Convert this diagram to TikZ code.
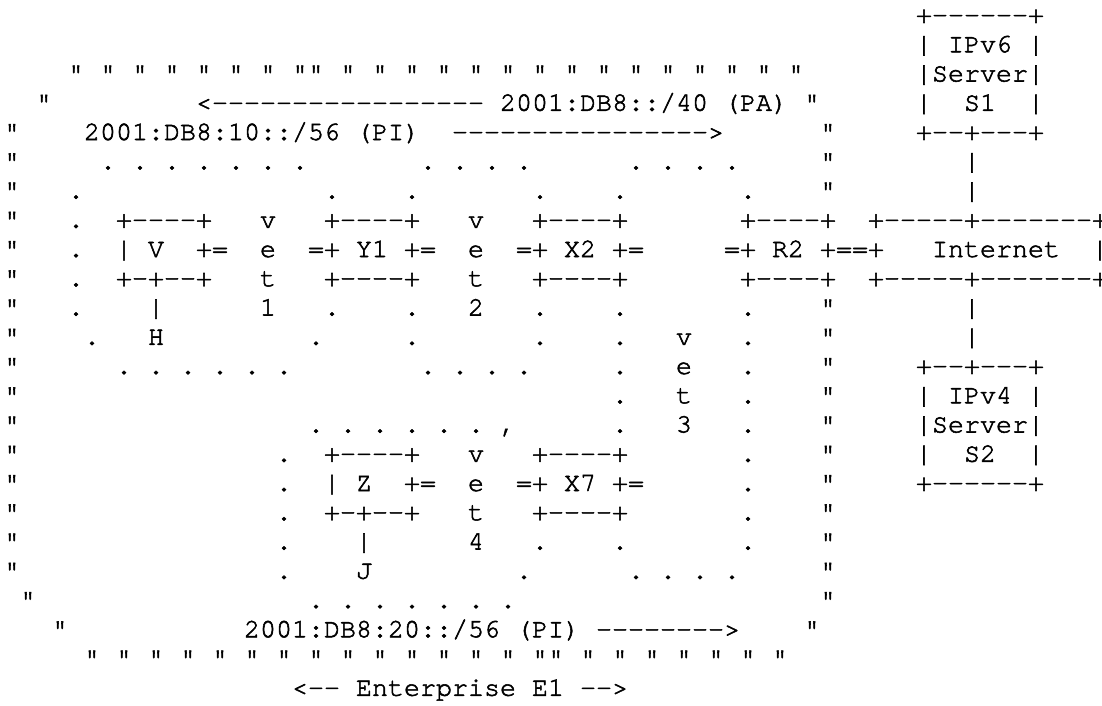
\documentclass[tikz,border=0pt]{standalone}
\usepackage{fontspec}
\IfFontExistsTF{texgyrecursor-regular.otf}{\newfontfamily\asc{texgyrecursor-regular.otf}[FakeBold=2]}{\newfontfamily\asc{Liberation Mono}}
\tikzset{asc/.style={font=\asc\fontsize{26.67pt}{29.25pt}\selectfont, anchor=base west, inner sep=0pt, outer sep=0pt, text=black}}
\newcommand\T[3]{\node[asc] (r#1c#2) at ({4pt+#2*16pt},{-23pt-#1*29.25pt}) {#3};}
\begin{document}
\begin{tikzpicture}
\useasboundingbox (0,0) rectangle (1102pt,-705pt);
\fill[white] (0,0) rectangle (1102pt,-705pt);
% row 0-1
\T{0}{57}{+------+}
\T{1}{57}{|~IPv6~|}
% row 2
\foreach \c in {4,6,...,18} {\T{2}{\c}{"}}
\foreach \c in {19,21,...,49} {\T{2}{\c}{"}}
\T{2}{57}{|Server|}
% row 3
\T{3}{2}{"}
\T{3}{12}{<-----------------}
\T{3}{31}{2001:DB8::/40~(PA)}
\T{3}{50}{"}
\T{3}{57}{|~~S1~~|}
% row 4
\T{4}{0}{"}
\T{4}{5}{2001:DB8:10::/56~(PI)}
\T{4}{28}{---------------->}
\T{4}{51}{"}
\T{4}{57}{+--+---+}
% row 5
\T{5}{0}{"}
\foreach \c in {6,8,...,18} {\T{5}{\c}{.}}
\foreach \c in {26,28,...,32} {\T{5}{\c}{.}}
\foreach \c in {39,41,...,45} {\T{5}{\c}{.}}
\T{5}{51}{"}
\T{5}{60}{|}
% row 6
\T{6}{0}{"}
\foreach \c in {4,20,25,33,38,46} {\T{6}{\c}{.}}
\T{6}{51}{"}
\T{6}{60}{|}
% row 7
\T{7}{0}{"}
\T{7}{4}{.}
\T{7}{7}{+----+}
\T{7}{16}{v}
\T{7}{20}{+----+}
\T{7}{29}{v}
\T{7}{33}{+----+}
\T{7}{46}{+----+}
\T{7}{54}{+-----+-------+}
% row 8
\T{8}{0}{"}
\T{8}{4}{.}
\T{8}{7}{|~V~~+=}
\T{8}{16}{e}
\T{8}{19}{=+~Y1~+=}
\T{8}{29}{e}
\T{8}{32}{=+~X2~+=}
\T{8}{45}{=+~R2~+==+}
\T{8}{58}{Internet}
\T{8}{68}{|}
% row 9
\T{9}{0}{"}
\T{9}{4}{.}
\T{9}{7}{+-+--+}
\T{9}{16}{t}
\T{9}{20}{+----+}
\T{9}{29}{t}
\T{9}{33}{+----+}
\T{9}{46}{+----+}
\T{9}{54}{+-----+-------+}
% row 10
\T{10}{0}{"}
\T{10}{4}{.}
\T{10}{9}{|}
\T{10}{16}{1}
\foreach \c in {20,25,33,38,46} {\T{10}{\c}{.}}
\T{10}{29}{2}
\T{10}{51}{"}
\T{10}{60}{|}
% row 11
\T{11}{0}{"}
\foreach \c in {5,19,25,33,38,46} {\T{11}{\c}{.}}
\T{11}{9}{H}
\T{11}{42}{v}
\T{11}{51}{"}
\T{11}{60}{|}
% row 12
\T{12}{0}{"}
\foreach \c in {7,9,...,17} {\T{12}{\c}{.}}
\foreach \c in {26,28,...,32} {\T{12}{\c}{.}}
\T{12}{38}{.}
\T{12}{42}{e}
\T{12}{46}{.}
\T{12}{51}{"}
\T{12}{57}{+--+---+}
% row 13
\T{13}{0}{"}
\T{13}{38}{.}
\T{13}{42}{t}
\T{13}{46}{.}
\T{13}{51}{"}
\T{13}{57}{|~IPv4~|}
% row 14
\T{14}{0}{"}
\foreach \c in {19,21,...,29} {\T{14}{\c}{.}}
\T{14}{31}{,}
\T{14}{38}{.}
\T{14}{42}{3}
\T{14}{46}{.}
\T{14}{51}{"}
\T{14}{57}{|Server|}
% row 15
\T{15}{0}{"}
\T{15}{17}{.}
\T{15}{20}{+----+}
\T{15}{29}{v}
\T{15}{33}{+----+}
\T{15}{46}{.}
\T{15}{51}{"}
\T{15}{57}{|~~S2~~|}
% row 16
\T{16}{0}{"}
\T{16}{17}{.}
\T{16}{20}{|~Z~~+=}
\T{16}{29}{e}
\T{16}{32}{=+~X7~+=}
\T{16}{46}{.}
\T{16}{51}{"}
\T{16}{57}{+------+}
% row 17
\T{17}{0}{"}
\T{17}{17}{.}
\T{17}{20}{+-+--+}
\T{17}{29}{t}
\T{17}{33}{+----+}
\T{17}{46}{.}
\T{17}{51}{"}
% row 18
\T{18}{0}{"}
\foreach \c in {17,33,38,46} {\T{18}{\c}{.}}
\T{18}{22}{|}
\T{18}{29}{4}
\T{18}{51}{"}
% row 19
\T{19}{0}{"}
\T{19}{17}{.}
\T{19}{22}{J}
\T{19}{32}{.}
\foreach \c in {39,41,...,45} {\T{19}{\c}{.}}
\T{19}{51}{"}
% row 20
\T{20}{1}{"}
\foreach \c in {19,21,...,31} {\T{20}{\c}{.}}
\T{20}{51}{"}
% row 21
\T{21}{3}{"}
\T{21}{15}{2001:DB8:20::/56~(PI)~-------->}
\T{21}{50}{"}
% row 22
\foreach \c in {5,7,...,33} {\T{22}{\c}{"}}
\foreach \c in {34,36,...,48} {\T{22}{\c}{"}}
% row 23
\T{23}{18}{<--~Enterprise~E1~-->}
\end{tikzpicture}
\end{document}
